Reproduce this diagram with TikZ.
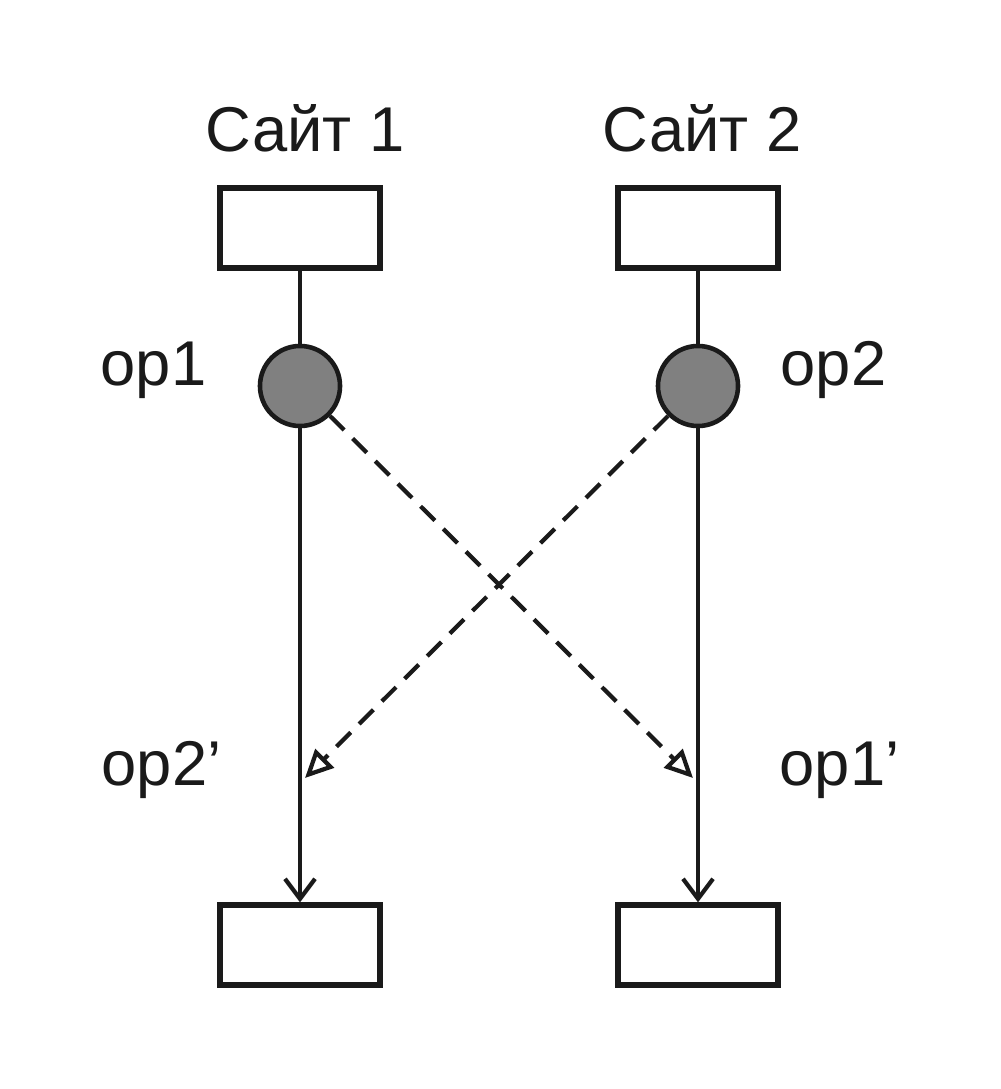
\documentclass[tikz,border=0pt]{standalone}
\usepackage{fontspec}
\setmainfont{Liberation Sans}
\usetikzlibrary{arrows.meta}
\definecolor{opfill}{HTML}{808080}
\definecolor{ink}{HTML}{1A1A1A}
\begin{document}
\begin{tikzpicture}[x=0.01cm,y=-0.01cm,
  sitebox/.style={draw=ink,line width=1.5pt,minimum width=1.6cm,minimum height=0.8cm,inner sep=0pt},
  opdot/.style={circle,draw=ink,line width=1.3pt,fill=opfill,minimum size=0.8cm,inner sep=0pt},
  lbl/.style={font=\fontsize{18}{20}\selectfont,text=ink},
  flow/.style={draw=ink,line width=1.2pt},
  msg/.style={draw=ink,line width=1.2pt,dash pattern=on 0.2cm off 0.12cm,-{Triangle[open,length=0.28cm,width=0.26cm,line width=1.2pt]}}
]
\useasboundingbox (0,0) rectangle (1000,1089);
\node[lbl] (s1) at (305,128) {Сайт 1};
\node[lbl] (s2) at (702,128) {Сайт 2};
\node[sitebox] (t1) at (300,228) {};
\node[sitebox] (t2) at (698,228) {};
\node[sitebox] (b1) at (300,945) {};
\node[sitebox] (b2) at (698,945) {};
\node[opdot] (c1) at (300,386) {};
\node[opdot] (c2) at (698,386) {};
\node[lbl,anchor=west,inner sep=0pt] (l1) at (100,370) {op1};
\node[lbl,anchor=west,inner sep=0pt] (l2) at (780,370) {op2};
\node[lbl,anchor=west,inner sep=0pt] (l3) at (101,770) {op2’};
\node[lbl,anchor=west,inner sep=0pt] (l4) at (779,770) {op1’};
\coordinate (m1) at (305,778);
\coordinate (m2) at (693,778);
\draw[flow] (t1) -- (c1);
\draw[flow] (t2) -- (c2);
\draw[flow,-{Straight Barb[length=0.2cm,width=0.3cm,line width=1.2pt]}] (c1) -- (b1);
\draw[flow,-{Straight Barb[length=0.2cm,width=0.3cm,line width=1.2pt]}] (c2) -- (b2);
\draw[msg] (c1.-45) -- (m2);
\draw[msg] (c2.-135) -- (m1);
\end{tikzpicture}
\end{document}
